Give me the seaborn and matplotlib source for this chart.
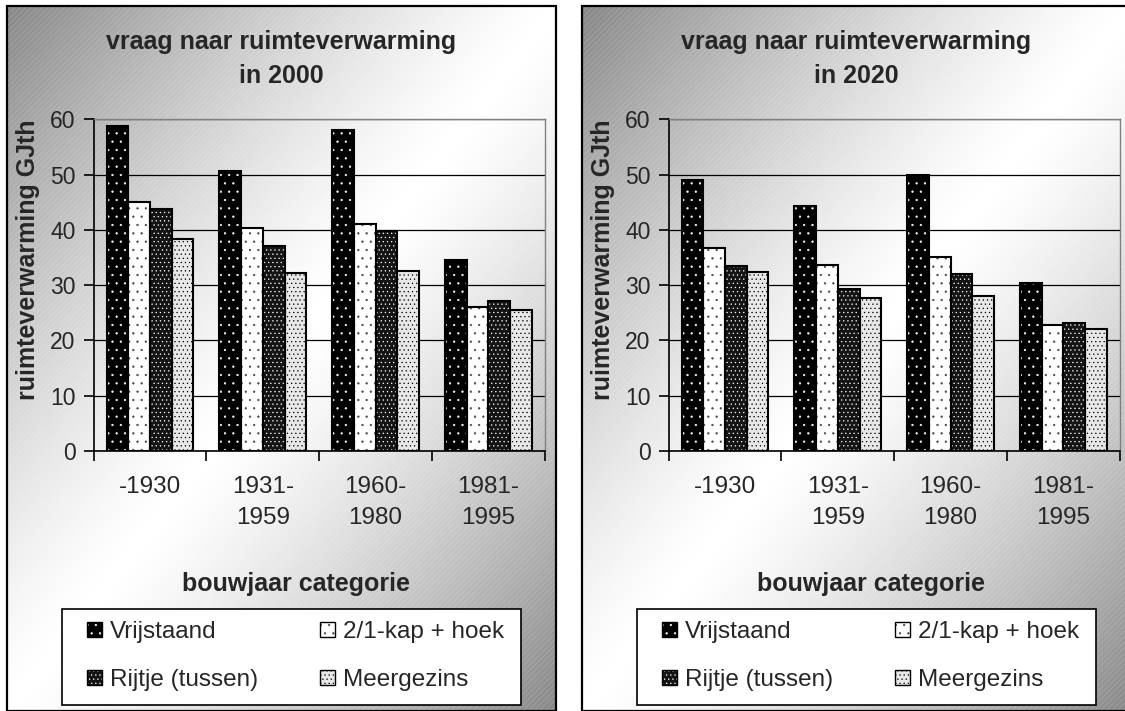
import numpy as np
import pandas as pd
import matplotlib
matplotlib.use("Agg")
import matplotlib.pyplot as plt
import matplotlib.patches as mpatches
from matplotlib.legend_handler import HandlerTuple
import seaborn as sns

# Data
categories = ["-1930", "1931-\n1959", "1960-\n1980", "1981-\n1995"]
types = ["Vrijstaand", "2/1-kap + hoek", "Rijtje (tussen)", "Meergezins"]

vrijstaand_2000 = [58.7, 50.6, 58.1, 34.6]
kap_2000 = [45.1, 40.3, 41.0, 26.0]
rijtje_2000 = [43.8, 37.0, 39.8, 27.2]
meergezins_2000 = [38.4, 32.2, 32.6, 25.5]

vrijstaand_2020 = [49.0, 44.3, 50.0, 30.4]
kap_2020 = [36.7, 33.7, 35.1, 22.8]
rijtje_2020 = [33.4, 29.3, 32.0, 23.2]
meergezins_2020 = [32.3, 27.6, 28.0, 22.1]

# Styles
face_colors = ["black", "white", "#141414", "#e8e8e8"]
hatches = ["..", "..", "....", "...."]
hatch_colors = ["white", "#444444", "white", "black"]

sns.set_style("white")
plt.rcParams["font.family"] = ["Liberation Sans", "DejaVu Sans"]
plt.rcParams["hatch.linewidth"] = 0.4

W, H = 1125, 711
fig = plt.figure(figsize=(W / 100, H / 100), dpi=100)
fig.patch.set_facecolor("white")


def make_df(values):
    rows = []
    for t, vals in zip(types, values):
        for c, v in zip(categories, vals):
            rows.append({"bouwjaar": c, "type": t, "waarde": v})
    return pd.DataFrame(rows)


def draw_panel(px, year, values):
    # panel background with diagonal gradient
    bg = fig.add_axes([px / W, 0, 549 / W, (H - 6) / H], zorder=0)
    ny, nx = 400, 320
    yy, xx = np.mgrid[0:ny, 0:nx]
    u = (xx / nx + yy / ny) / 2
    grad = 1 - 0.47 * np.abs(2 * u - 1) ** 1.3
    bg.imshow(grad, cmap="gray", vmin=0, vmax=1, extent=[0, 1, 0, 1],
              aspect="auto", interpolation="bilinear")
    bg.add_patch(mpatches.Rectangle((0, 0), 1, 1, transform=bg.transAxes,
                                    fill=False, hatch="//////",
                                    edgecolor=(1, 1, 1, 0.25), lw=0))
    bg.add_patch(mpatches.Rectangle((0, 0), 1, 1, transform=bg.transAxes,
                                    fill=False, edgecolor="black", lw=1.6,
                                    clip_on=False))
    bg.set_xlim(0, 1)
    bg.set_ylim(0, 1)
    bg.axis("off")

    # chart axes
    ax0 = px + 86.7
    ax = fig.add_axes([ax0 / W, 1 - 451 / H, 451 / W, (451 - 119.3) / H],
                      zorder=1)
    ax.set_facecolor("none")
    df = make_df(values)
    sns.barplot(data=df, x="bouwjaar", y="waarde", hue="type",
                order=categories, hue_order=types,
                palette=dict(zip(types, face_colors)), saturation=1,
                width=0.77, legend=False, linewidth=0, ax=ax)
    for i, cont in enumerate(ax.containers):
        for bar in cont:
            bar.set_hatch(hatches[i])
            bar.set_edgecolor(hatch_colors[i])
            bar.set_linewidth(0)
            ax.add_patch(mpatches.Rectangle(bar.get_xy(), bar.get_width(),
                                            bar.get_height(), fill=False,
                                            edgecolor="black", lw=1.5,
                                            zorder=bar.get_zorder() + 0.1))

    ax.set_xlim(-0.5, 3.5)
    ax.set_ylim(0, 60)
    ax.set_yticks(range(0, 61, 10))
    ax.grid(axis="y", color="black", lw=0.9)
    ax.grid(axis="x", visible=False)
    ax.set_axisbelow(True)
    for s in ["left", "bottom"]:
        ax.spines[s].set_color("black")
        ax.spines[s].set_linewidth(1.2)
    for s in ["top", "right"]:
        ax.spines[s].set_color("#808080")
        ax.spines[s].set_linewidth(1.0)

    ax.set_xticks(range(4))
    ax.set_xticklabels(categories, linespacing=1.5)
    ax.set_xticks(np.arange(-0.5, 4, 1), minor=True)
    ax.tick_params(axis="x", which="major", length=0, pad=18, labelsize=17.5)
    ax.tick_params(axis="x", which="minor", length=7, width=1.2,
                   direction="out", color="black", bottom=True)
    ax.tick_params(axis="y", length=7, width=1.2, direction="out",
                   color="black", pad=6, labelsize=16.5, left=True)

    ax.set_xlabel("bouwjaar categorie", fontsize=18, fontweight="bold")
    ax.set_ylabel("ruimteverwarming GJth", fontsize=18, fontweight="bold")
    ax.xaxis.set_label_coords(0.449, -0.365)
    ax.yaxis.set_label_coords(-0.118, 0.576)

    fig.text((px + 274.5) / W, 1 - 59 / H,
             "vraag naar ruimteverwarming\nin " + year,
             ha="center", va="center", fontsize=18, fontweight="bold",
             linespacing=1.5)

    # legend box and entries
    fig.add_artist(mpatches.Rectangle(((px + 55) / W, 1 - 705 / H),
                                      459 / W, 96 / H,
                                      transform=fig.transFigure,
                                      facecolor="white", edgecolor="black",
                                      lw=1.2, zorder=2))
    handles = []
    for i in [0, 2, 1, 3]:
        handles.append((
            mpatches.Patch(facecolor=face_colors[i], hatch=hatches[i],
                           edgecolor=hatch_colors[i], lw=0),
            mpatches.Patch(fill=False, edgecolor="black", lw=1.0)))
    labels = [types[i] for i in [0, 2, 1, 3]]
    leg = fig.legend(handles, labels, ncol=2, loc="center left",
                     bbox_to_anchor=((px + 80) / W, 1 - 656 / H),
                     frameon=False, fontsize=17.5, borderpad=0,
                     borderaxespad=0, handlelength=0.6, handleheight=0.6,
                     handletextpad=0.35, columnspacing=2.55,
                     labelspacing=1.08,
                     handler_map={tuple: HandlerTuple(ndivide=1)})
    leg.set_zorder(3)


draw_panel(7, "2000", [vrijstaand_2000, kap_2000, rijtje_2000, meergezins_2000])
draw_panel(582, "2020", [vrijstaand_2020, kap_2020, rijtje_2020, meergezins_2020])

fig.savefig("out.png", dpi=100)
